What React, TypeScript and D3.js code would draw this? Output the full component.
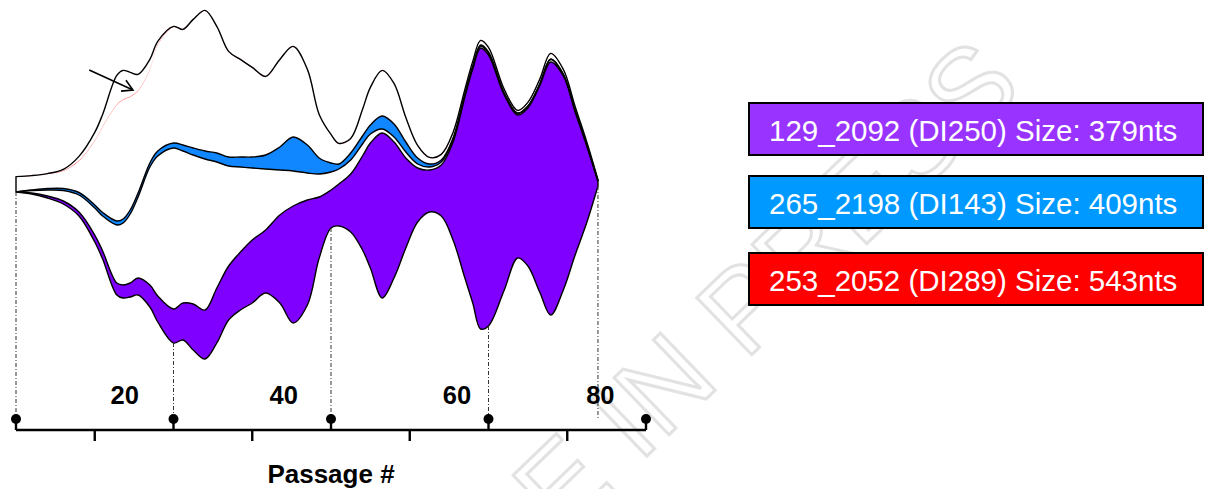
import React from 'react';
import * as d3 from 'd3';

const passages = [0, 2, 4, 6, 8, 10, 11, 12.8, 13.6, 14.5, 15.5, 17, 18, 20, 21.2, 22.5, 24, 25.5, 27, 28.5, 30, 31.7, 33.5, 35.2, 37, 38.5, 40, 41, 42.5, 44, 45, 46.5, 48, 49.5, 51, 52.5, 54, 55.5, 57, 58, 59, 60, 62, 63.7, 65, 66.5, 67.9, 69.5, 71, 72.5, 73.9];

// invisible offset under the stream (fish plot wiggle)
const baseOffset = [89, 88, 86, 83, 77, 64, 55.5, 37.5, 36, 36.5, 37.5, 31.5, 24, 13.5, 15, 10, 5.5, 13.5, 25, 30, 33.5, 38.5, 33.5, 23.5, 32.5, 56, 71, 72, 69, 60, 51, 36, 46, 61, 74, 79, 77, 65, 46, 33.5, 20.5, 22, 40, 56, 52, 39, 27.5, 40, 57.5, 74, 92];

// DI250 (purple)
const di250 = [0, 0.5, 1, 1.5, 2, 3.5, 4, 6, 6.5, 7, 8.5, 11, 13, 17, 18.5, 23, 24.5, 27.5, 27, 29, 31.5, 31.5, 44, 58.5, 52.5, 30.5, 19, 21, 29, 47, 62.5, 82.5, 68, 45, 27, 21, 25.5, 49, 90.5, 117, 140.5, 135.5, 97.5, 71.5, 79, 103, 126.5, 107, 71.5, 37.75, 2.25];

// parent population, part between purple and blue
const parentLow = [0, 1.25, 3, 5.25, 8.5, 13.5, 17.5, 29, 31, 34.5, 40.5, 59, 70, 80.5, 76, 74.5, 75.5, 63, 50, 42.5, 36, 30.5, 22.5, 17.5, 13.5, 11.5, 9, 7.5, 7, 6, 4.5, 2, 2.5, 3, 2, 1.5, 1.5, 1.25, 1, 1, 1, 1, 0.75, 0.75, 0.75, 0.75, 1.25, 0.75, 0.75, 0.5, 0.25];

// DI143 (blue)
const di143 = [0, 0.25, 0.75, 1, 1.25, 1.5, 1.75, 2, 2, 2, 2, 2, 2.5, 2.5, 3, 3.5, 4, 4.5, 4.5, 5, 5.5, 7, 11.5, 17, 14, 8, 4.5, 2.5, 3.5, 4, 4.5, 6.5, 6.5, 5, 3, 1.5, 1, 0.75, 0.5, 0.5, 0.5, 0.5, 0.25, 0.25, 0.25, 0.25, 0.25, 0.25, 0.25, 0.25, 0];

// parent population above blue
const parentHigh = [7.5, 7, 7.25, 8.75, 15.75, 32, 42.75, 58, 59.5, 56.5, 51, 46.5, 53, 58, 57.5, 64, 70, 63, 52.5, 48.5, 44.5, 39, 43.5, 45, 37.5, 21.5, 14, 10, 7, 13, 18.5, 22.5, 20, 12, 6, 3, 2.5, 2.5, 2, 2, 2, 2, 1.5, 1, 1.5, 2, 2.5, 2, 1.5, 1, 0.5];

// DI289 (red, very small)
const di289 = [0.2, 0.2, 0.2, 0.3, 0.3, 0.3, 0.3, 0.3, 0.3, 0.3, 0.3, 0.3, 0.3, 0.3, 0.3, 0.3, 0.3, 0.3, 0.3, 0.3, 0.3, 0.3, 0.3, 0.3, 0.3, 0.3, 0.3, 0.3, 0.3, 0.3, 0.3, 0.3, 0.3, 0.3, 0.3, 0.3, 0.3, 0.3, 0.3, 0.3, 0.3, 0.3, 0.3, 0.3, 0.3, 0.3, 0.3, 0.3, 0.3, 0.3, 0.2];

// parent population above red
const parentTop = [0, 0, 0, 0.5, 2, 4, 6, 14.5, 14.5, 12, 8, 5, 1.5, 0, 0, 0, 0, 0, 0, 0, 0, 0, 0, 0, 0, 0, 0, 0, 0, 0, 0, 0, 0, 0, 0, 0, 0, 0, 0, 0, 0, 0, 0, 0, 0, 0, 0, 0, 0, 0, 0];

const axisDots = [0, 20, 40, 60, 80];
const minorTicks = [10, 30, 50, 70];
const tickLabels = ['20', '40', '60', '80'];
const tickLabelAt = [13.8, 34, 56, 74.2];
const markerPassages = [0, 20, 40, 60, 73.9];

const legendLabels = [
  '129_2092 (DI250) Size: 379nts',
  '265_2198 (DI143) Size: 409nts',
  '253_2052 (DI289) Size: 543nts',
];
const legendColors = ['#9933ff', '#0099ff', '#ff0000'];

const keys = ['base', 'di250', 'low', 'di143', 'high', 'di289', 'top'];

export default function App() {
  const width = 1208;
  const height = 489;
  const axisY = 430;
  const dotY = 419;

  const x = d3.scaleLinear().domain([0, 80]).range([16, 646]);
  const y = d3.scaleLinear().domain([0, 185]).range([370, 0]);

  const rows = passages.map((p, i) => ({
    p,
    base: baseOffset[i],
    di250: di250[i],
    low: parentLow[i],
    di143: di143[i],
    high: parentHigh[i],
    di289: di289[i],
    top: parentTop[i],
  }));

  const series = d3.stack<any>().keys(keys)(rows);
  const curve = d3.curveCatmullRom.alpha(0.5);

  const band = (k: number) =>
    d3.area<any>()
      .x((d) => x(d.data.p))
      .y0((d) => y(d[0]))
      .y1((d) => y(d[1]))
      .curve(curve)(series[k]) || '';

  const edge = (k: number) =>
    d3.line<any>()
      .x((d) => x(d.data.p))
      .y((d) => y(d[1]))
      .curve(curve)(series[k]) || '';

  const last = series.length - 1;
  const outline =
    d3.area<number>()
      .x((i) => x(passages[i]))
      .y0((i) => y(series[0][i][1]))
      .y1((i) => y(series[last][i][1]))
      .curve(curve)(passages.map((_, i) => i)) || '';

  // arrow pointing at the DI289 line
  const a0 = [x(9.3), y(150)];
  const a1 = [x(14.85), y(140)];
  const ang = Math.atan2(a1[1] - a0[1], a1[0] - a0[0]);
  const head = 12;
  const h1 = [a1[0] - head * Math.cos(ang - 0.52), a1[1] - head * Math.sin(ang - 0.52)];
  const h2 = [a1[0] - head * Math.cos(ang + 0.52), a1[1] - head * Math.sin(ang + 0.52)];

  const font = '"Liberation Sans", Arial, Helvetica, sans-serif';

  return (
    <svg width={width} height={height} style={{ position: 'absolute', left: 0, top: 0, background: '#fff' }}>
      {/* watermark */}
      <text
        x={0}
        y={0}
        transform="translate(647,456) rotate(-44)"
        fontFamily={font}
        fontSize={115}
        textAnchor="middle"
        fill="none"
        stroke="#e2e2e2"
        strokeWidth={3}
      >
        ARTICLE IN PRESS
      </text>

      {/* colored clones */}
      <path d={band(1)} fill="#8000ff" />
      <path d={band(3)} fill="#1187ff" />
      <path d={band(5)} fill="#ff4a4a" />

      {/* clone borders */}
      <path d={edge(1)} fill="none" stroke="#000" strokeWidth={1.4} />
      <path d={edge(2)} fill="none" stroke="#000" strokeWidth={1.4} />
      <path d={edge(3)} fill="none" stroke="#000" strokeWidth={1.4} />
      <path d={outline} fill="none" stroke="#000" strokeWidth={1.4} strokeLinejoin="round" />

      {/* arrow */}
      <line x1={a0[0]} y1={a0[1]} x2={a1[0]} y2={a1[1]} stroke="#000" strokeWidth={1.6} />
      <polyline
        points={`${h1[0]},${h1[1]} ${a1[0]},${a1[1]} ${h2[0]},${h2[1]}`}
        fill="none"
        stroke="#000"
        strokeWidth={1.6}
      />

      {/* sampling markers */}
      {markerPassages.map((p) => {
        const i = passages.indexOf(p);
        return (
          <line
            key={`m-${p}`}
            x1={x(p)}
            x2={x(p)}
            y1={y(series[0][i][1])}
            y2={dotY}
            stroke="#333"
            strokeWidth={1}
            strokeDasharray="4,2,1,2"
          />
        );
      })}

      {/* axis */}
      <line x1={x(0)} x2={x(80)} y1={axisY} y2={axisY} stroke="#000" strokeWidth={2.6} />
      {axisDots.map((p) => (
        <g key={`d-${p}`}>
          <line x1={x(p)} x2={x(p)} y1={dotY} y2={axisY} stroke="#000" strokeWidth={2.4} />
          <circle cx={x(p)} cy={dotY} r={5} fill="#000" />
        </g>
      ))}
      {minorTicks.map((p) => (
        <line key={`t-${p}`} x1={x(p)} x2={x(p)} y1={axisY} y2={axisY + 11} stroke="#000" strokeWidth={2.4} />
      ))}
      {tickLabels.map((t, i) => (
        <text
          key={`l-${t}`}
          x={x(tickLabelAt[i])}
          y={404}
          textAnchor="middle"
          fontFamily={font}
          fontWeight="bold"
          fontSize={25.5}
          fill="#000"
        >
          {t}
        </text>
      ))}
      <text x={331} y={483} textAnchor="middle" fontFamily={font} fontWeight="bold" fontSize={26} fill="#000">
        Passage #
      </text>

      {/* legend */}
      {legendLabels.map((lab, i) => {
        const top = [103, 176, 253][i];
        return (
          <g key={lab}>
            <rect x={749} y={top} width={454} height={52} fill={legendColors[i]} stroke="#000" strokeWidth={2} />
            <text x={769} y={top + 38} fontFamily={font} fontSize={29.5} fill="#fff">
              {lab}
            </text>
          </g>
        );
      })}
    </svg>
  );
}
